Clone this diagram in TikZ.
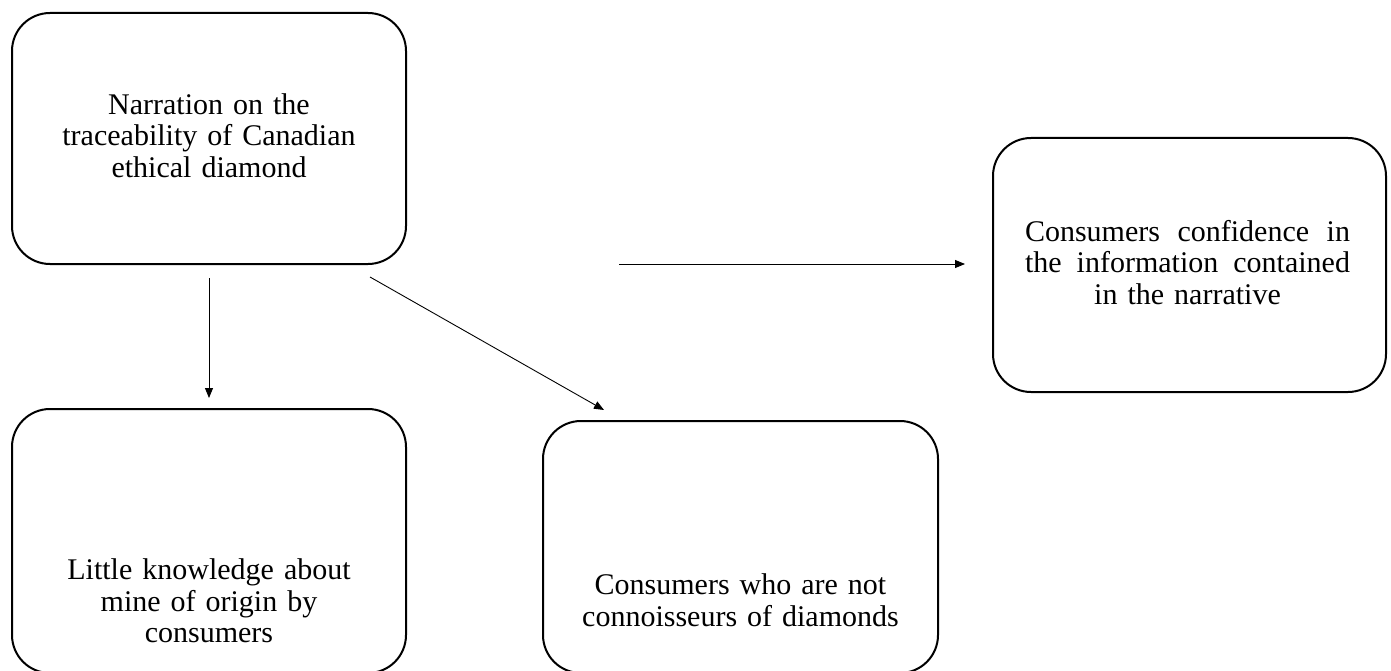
\documentclass[tikz,border=0pt]{standalone}
\usepackage{fontspec}
\setmainfont{Liberation Serif}
\usetikzlibrary{arrows.meta}
\newcommand{\spread}[2]{\makebox[#1pt]{#2}}
\begin{document}
\begin{tikzpicture}[x=1pt,y=-1pt,
  box/.style={draw=black,line width=2pt,rounded corners=38pt,inner sep=0pt},
  txt/.style={align=center,font=\fontsize{30}{31.5}\selectfont,inner sep=0pt,text width=380pt},
  arr/.style={line width=0.9pt,-{Triangle[length=10pt,width=8pt]}}]
\useasboundingbox[fill=white] (0,0) rectangle (1391,671);
\node[box,minimum width=394pt,minimum height=251pt] (b1) at (209,138.5) {};
\node[box,minimum width=394pt,minimum height=264pt] (b2) at (209,541) {};
\node[box,minimum width=395pt,minimum height=252pt] (b3) at (740.5,547) {};
\node[box,minimum width=393pt,minimum height=254pt] (b4) at (1189.5,265) {};
\node[txt] (t1) at (209,135.5) {Narration on the\\traceability of Canadian\\ethical diamond};
\node[txt] (t2) at (209,601) {Little knowledge about\\mine of origin by\\consumers};
\node[txt] (t3) at (740.5,600) {Consumers who are not\\connoisseurs of diamonds};
\node[txt] (t4) at (1187.5,262.5) {\spread{325}{Consumers\hfill confidence\hfill in}\\\spread{325}{the\hfill information\hfill contained}\\in the narrative};
\coordinate (s1) at (619,264);
\draw[arr,shorten <=13pt,shorten >=10pt] (b1.south) -- (b2.north);
\draw[arr] (370,277) coordinate (d1) -- (604,410) coordinate (d2);
\draw[arr,shorten >=27pt] (s1) -- (b4.west |- s1);
\end{tikzpicture}
\end{document}
